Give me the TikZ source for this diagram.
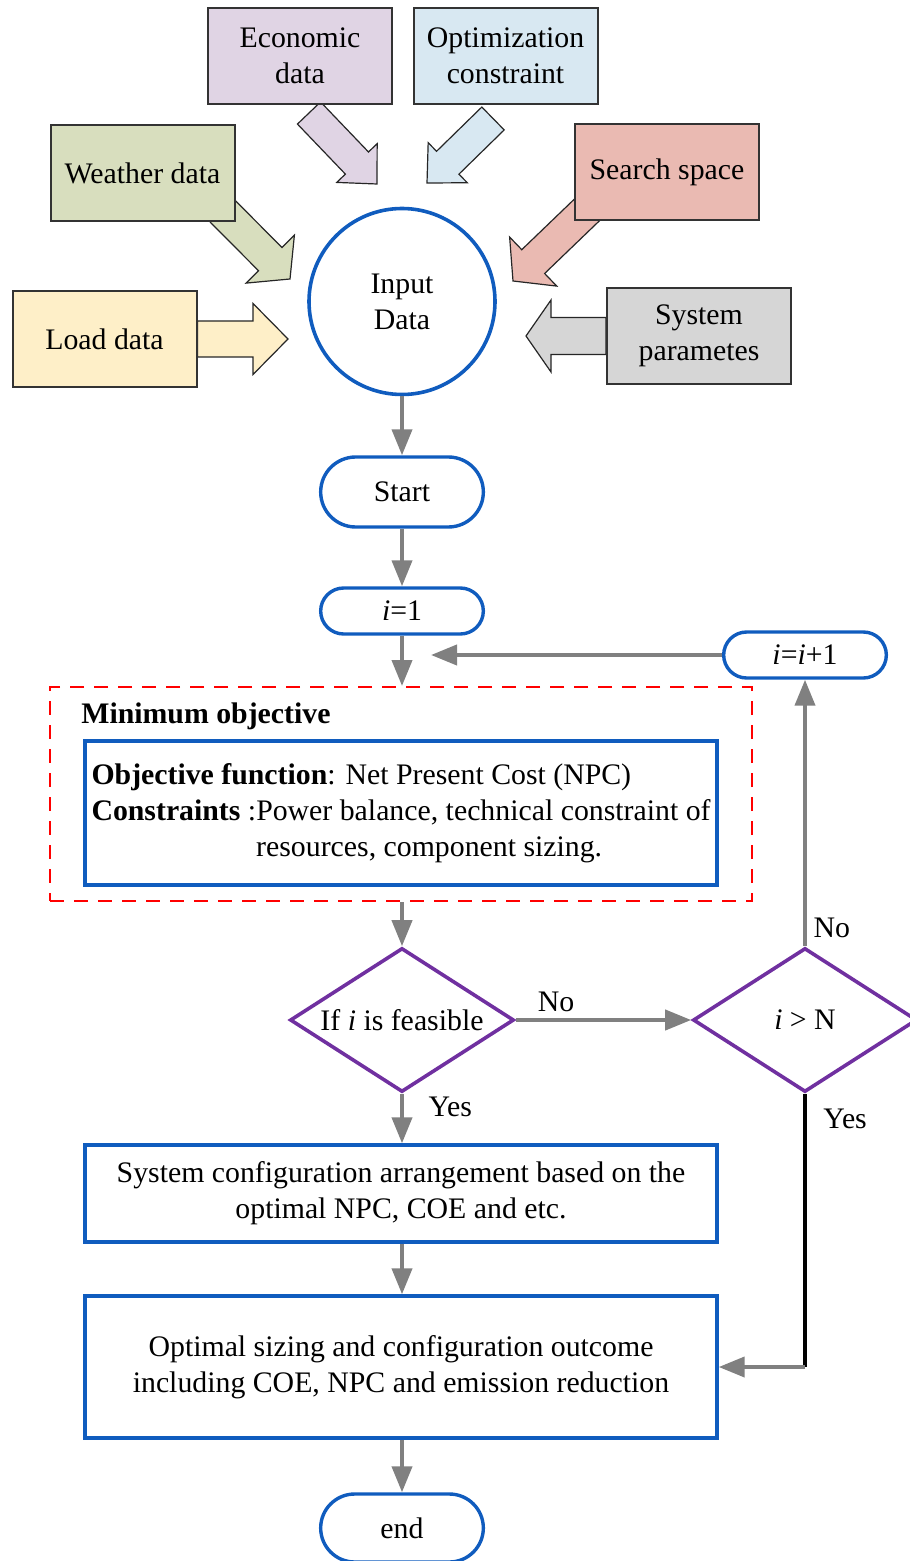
\documentclass[tikz,border=0pt]{standalone}
\usepackage{fontspec}
\setmainfont{LiberationSerif}[Extension=.ttf, UprightFont=*-Regular, BoldFont=*-Bold, ItalicFont=*-Italic, BoldItalicFont=*-BoldItalic]
\usetikzlibrary{shapes.geometric,shapes.misc,arrows.meta,calc,backgrounds}

\definecolor{flowblue}{RGB}{16,92,190}
\definecolor{flowpurple}{RGB}{112,48,160}
\definecolor{econfill}{RGB}{224,212,228}
\definecolor{optfill}{RGB}{216,232,242}
\definecolor{weatherfill}{RGB}{216,222,190}
\definecolor{searchfill}{RGB}{234,186,178}
\definecolor{loadfill}{RGB}{254,239,200}
\definecolor{sysfill}{RGB}{214,214,214}

\tikzset{
  databox/.style={draw=black!80, line width=1pt, minimum width=92pt, minimum height=48pt, align=center, inner sep=2pt},
  fatline/.style={draw=black!85, line width=0.6pt},
  terminal/.style={rounded rectangle, draw=flowblue, line width=1.7pt, minimum width=88pt},
  process/.style={rectangle, draw=flowblue, line width=1.7pt, minimum width=316pt, align=center},
  decision/.style={diamond, aspect=1.55, draw=flowpurple, line width=1.8pt, minimum width=112pt, minimum height=72pt, inner sep=0pt},
  flow/.style={draw=gray, line width=2pt, -{Triangle[length=13pt,width=10pt]}},
}

% block arrow: start, tip, fill, shaft half width, head half width, head length
\newcommand{\fatarrow}[6]{%
  \coordinate (fa-base) at ($(#2)!#6!(#1)$);
  \filldraw[fatline, fill=#3] ($(#1)!#4!90:(#2)$) -- ($(fa-base)!#4!90:(#2)$)
    -- ($(fa-base)!#5!90:(#2)$) -- (#2) -- ($(fa-base)!#5!-90:(#2)$)
    -- ($(fa-base)!#4!-90:(#2)$) -- ($(#1)!#4!-90:(#2)$) -- cycle;
}

\begin{document}
\begin{tikzpicture}[x=0.5pt, y=-0.5pt, font=\fontsize{14.9pt}{18pt}\selectfont]
\useasboundingbox (0,0) rectangle (909,1561);
% Input sources
\node[databox, fill=econfill] (econ) at (300,56) {Economic\\data};
\node[databox, fill=optfill] (opt) at (505.5,56) {Optimization\\constraint};
\node[databox, fill=weatherfill] (weather) at (142.5,173) {Weather data};
\node[databox, fill=searchfill] (search) at (667,172) {Search space};
\node[databox, fill=loadfill] (load) at (104.5,339) {Load data};
\node[databox, fill=sysfill] (sys) at (699,336) {System\\parametes};
\node[circle, draw=flowblue, line width=1.8pt, minimum size=93pt, align=center] (input) at (402,301.5) {Input\\Data};
% Block arrows into the input
\coordinate (econ-s) at ($(econ.south)+(9,8)$);
\coordinate (econ-t) at (377,184);
\coordinate (opt-s) at ($(opt.south)+(-12.5,13.5)$);
\coordinate (opt-t) at (427,183);
\coordinate (weather-s) at ($(weather.south east)+(-25,-23)$);
\coordinate (weather-t) at (290,279);
\coordinate (search-s) at ($(search.south west)+(17,-15)$);
\coordinate (search-t) at (513,281);
\coordinate (load-t) at (288,339);
\coordinate (sys-t) at (526,336);
\begin{scope}[on background layer]
  \fatarrow{econ-s}{econ-t}{econfill}{8pt}{14pt}{14.5pt}
  \fatarrow{opt-s}{opt-t}{optfill}{8pt}{14pt}{14.5pt}
  \fatarrow{weather-s}{weather-t}{weatherfill}{8.25pt}{17pt}{14pt}
  \fatarrow{search-s}{search-t}{searchfill}{8.25pt}{17pt}{14pt}
  \fatarrow{load.east}{load-t}{loadfill}{9pt}{17.75pt}{17.5pt}
  \fatarrow{sys.west}{sys-t}{sysfill}{9.25pt}{18pt}{12.5pt}
\end{scope}
% Main flow
\node[terminal, minimum height=35pt] (start) at (402,492) {Start};
\node[terminal, minimum height=23pt] (i1) at (402,611) {\textit{i}=1};
\node[terminal, minimum height=23pt] (inc) at (805,655) {\textit{i}=\textit{i}+1};
\node[draw=red, line width=1pt, dash pattern=on 7pt off 5pt, minimum width=351pt, minimum height=107pt] (minbox) at (401,794) {};
\node[anchor=west, inner sep=0pt] (mintitle) at (81,716) {\bfseries Minimum objective};
\node[process, minimum height=72pt, align=left] (objbox) at (401,813) {\textbf{Objective function}: Net Present Cost (NPC)\\
  \textbf{Constraints} :Power balance, technical constraint of\\
  \phantom{\textbf{Constraints} :}resources, component sizing.};
\node[decision] (feas) at (402,1020) {If \textit{i} is feasible};
\node[decision] (chk) at (805,1020) {\textit{i} > N};
\node[process, minimum height=48.5pt] (config) at (401,1193.5) {System configuration arrangement based on the\\optimal NPC, COE and etc.};
\node[process, minimum height=71pt] (outcome) at (401,1367) {Optimal sizing and configuration outcome\\including COE, NPC and emission reduction};
\node[terminal, minimum height=34pt] (finish) at (402,1528) {end};
% Connectors
\draw[flow] (input.south) -- (start.north);
\draw[flow] (start.south) -- (i1.north);
\draw[flow] (i1.south) -- (i1.south |- minbox.north);
\draw[flow] (i1.south |- minbox.south) -- (feas.north);
\draw[flow] (feas.south) -- node[right, pos=0.26, xshift=9pt] {Yes} (feas.south |- config.north);
\draw[flow] (feas.south |- config.south) -- (feas.south |- outcome.north);
\draw[flow] (feas.south |- outcome.south) -- (finish.north);
\draw[flow] (feas.east) -- node[above, pos=0.23] {No} (chk.west);
\draw[flow] (chk.north) -- node[right, pos=0.07] {No} (inc.south);
\coordinate (merge) at ($(i1.south |- inc.west)+(29,0)$);
\draw[flow] (inc.west) -- (merge);
\coordinate (turn) at (chk.south |- outcome.east);
\draw[black, line width=1.8pt] (chk.south) -- node[right, pos=0.09, xshift=5pt] {Yes} (turn);
\draw[flow] (turn) -- (outcome.east);
\end{tikzpicture}
\end{document}
